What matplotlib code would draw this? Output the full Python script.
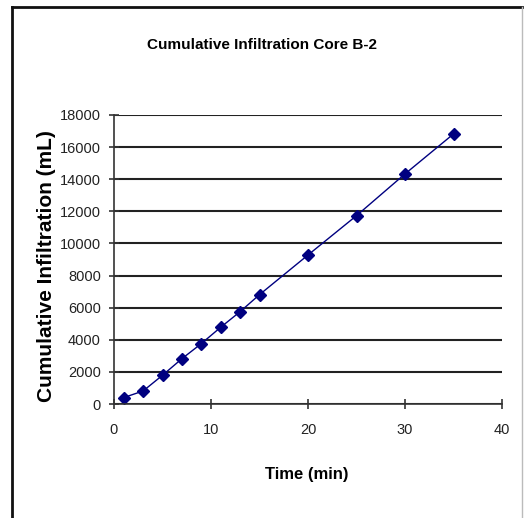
import matplotlib
matplotlib.use("Agg")
import matplotlib.pyplot as plt
from matplotlib.lines import Line2D
import matplotlib.font_manager as fm

time_min = [1, 3, 5, 7, 9, 11, 13, 15, 20, 25, 30, 35]
cum_inf = [400, 810, 1790, 2820, 3760, 4780, 5750, 6810, 9280, 11730, 14330, 16820]
x_ticks = [0, 10, 20, 30, 40]
y_ticks = list(range(0, 18001, 2000))

names = {f.name for f in fm.fontManager.ttflist}
fam = ['Liberation Sans Narrow'] if 'Liberation Sans Narrow' in names else ['Liberation Sans']
plt.rcParams['font.family'] = fam + ['DejaVu Sans']

W, H = 524, 518
fig = plt.figure(figsize=(W / 100, H / 100), dpi=100)
fig.patch.set_facecolor('white')

ax = fig.add_axes([114 / W, (H - 404) / H, (502 - 114) / W, (404 - 115) / H])
ax.plot(time_min, cum_inf, color='#000080', lw=1.0, marker='D', ms=6,
        markerfacecolor='#000080', markeredgecolor='#000080')
ax.set_xlim(0, 40)
ax.set_ylim(0, 18000)
ax.set_xticks(x_ticks)
ax.set_yticks(y_ticks)
ax.yaxis.grid(True, color='#222222', lw=1.5)
ax.set_axisbelow(True)
for s in ['top', 'right']:
    ax.spines[s].set_visible(False)
for s in ['left', 'bottom']:
    ax.spines[s].set_color('#333333')
    ax.spines[s].set_linewidth(1.2)
ax.tick_params(axis='both', direction='inout', length=7, width=1.2, color='#333333',
               labelsize=10.5, labelcolor='#222222', pad=6)
ax.tick_params(axis='x', pad=10)

fig.text(262 / W, 1 - 45 / H, 'Cumulative Infiltration Core B-2', ha='center', va='center',
         fontsize=11, fontweight='bold')
fig.text(47 / W, 1 - 266 / H, 'Cumulative Infiltration (mL)', ha='center', va='center',
         rotation=90, fontsize=15, fontweight='bold')
fig.text(307 / W, 1 - 474 / H, 'Time (min)', ha='center', va='center',
         fontsize=12, fontweight='bold')

# outer frame
x0, x1 = 12 / W, 522 / W
y0, y1 = 0, 1 - 7 / H
fig.add_artist(Line2D([x0, x0], [y0, y1], color='#111111', lw=2.0, transform=fig.transFigure))
fig.add_artist(Line2D([x0, x1], [y1, y1], color='#111111', lw=2.0, transform=fig.transFigure))
fig.add_artist(Line2D([x1, x1], [y0, y1], color='#bbbbbb', lw=1.0, transform=fig.transFigure))

fig.savefig('out.png', dpi=100, facecolor='white')
